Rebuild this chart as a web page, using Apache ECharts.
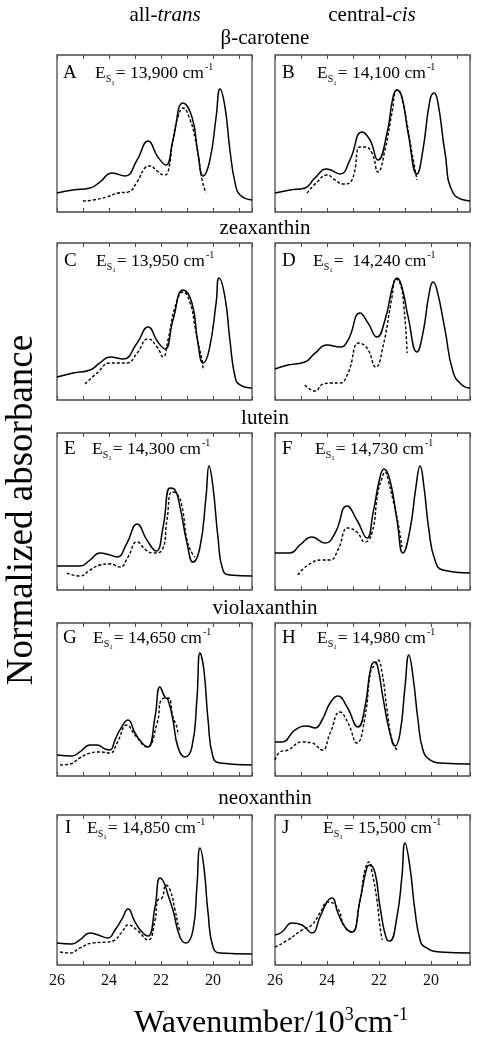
<!DOCTYPE html>
<html><head><meta charset="utf-8">
<script src="https://cdn.jsdelivr.net/npm/echarts@6/dist/echarts.min.js"></script>
<style>html,body{margin:0;padding:0;background:#fff}#c{width:486px;height:1050px}</style>
</head><body><div id="c"></div>
<script>
// ---- data ----
const xTickLabels = [26, 24, 22, 20];
const panelLetters = ['A','B','C','D','E','F','G','H','I','J'];
const esValues = ['= 13,900 cm','= 14,100 cm','= 13,950 cm','=  14,240 cm','= 14,300 cm','= 14,730 cm','= 14,650 cm','= 14,980 cm','= 14,850 cm','= 15,500 cm'];
const rowTitles = ['β-carotene','zeaxanthin','lutein','violaxanthin','neoxanthin'];

const solidA = [[26,0.121],[25.38,0.14],[24.73,0.153],[24.35,0.191],[23.88,0.248],[23.38,0.229],[22.92,0.331],[22.5,0.452],[22.12,0.35],[21.81,0.299],[21.54,0.459],[21.15,0.694],[20.81,0.605],[20.58,0.376],[20.38,0.229],[20.12,0.331],[19.88,0.605],[19.73,0.783],[19.54,0.669],[19.35,0.395],[19.15,0.185],[18.96,0.108],[18.5,0.076]];
const dashA = [[25.0,0.07],[24.62,0.076],[24.08,0.096],[23.65,0.121],[23.27,0.127],[22.92,0.191],[22.62,0.28],[22.42,0.293],[22.15,0.261],[21.88,0.236],[21.73,0.255],[21.54,0.459],[21.35,0.605],[21.15,0.662],[20.88,0.586],[20.69,0.471],[20.58,0.376],[20.42,0.204],[20.27,0.121]];

const solidB = [[26,0.121],[25.42,0.14],[24.85,0.153],[24.46,0.217],[24.0,0.274],[23.5,0.242],[23.12,0.331],[22.65,0.51],[22.35,0.459],[22.04,0.331],[21.69,0.503],[21.46,0.732],[21.31,0.777],[21.12,0.732],[20.88,0.503],[20.54,0.242],[20.31,0.395],[20.04,0.713],[19.88,0.758],[19.73,0.694],[19.46,0.376],[19.15,0.121],[18.5,0.07]];
const dashB = [[24.77,0.121],[24.38,0.191],[24.0,0.236],[23.69,0.204],[23.38,0.178],[23.04,0.204],[22.73,0.414],[22.54,0.414],[22.27,0.376],[22.04,0.255],[21.77,0.395],[21.5,0.631],[21.31,0.777],[21.19,0.764],[21.0,0.631],[20.73,0.376],[20.54,0.204]];

const solidC = [[26,0.146],[25.38,0.172],[24.73,0.191],[24.35,0.236],[23.96,0.274],[23.46,0.261],[22.92,0.363],[22.5,0.465],[22.12,0.369],[21.85,0.325],[21.54,0.51],[21.15,0.701],[20.81,0.618],[20.58,0.363],[20.38,0.236],[20.15,0.318],[19.88,0.618],[19.77,0.777],[19.54,0.656],[19.35,0.382],[19.15,0.146],[18.96,0.096],[18.5,0.076]];
const dashC = [[24.92,0.102],[24.46,0.172],[23.96,0.236],[23.69,0.236],[23.31,0.236],[22.92,0.299],[22.5,0.389],[22.15,0.338],[21.92,0.274],[21.73,0.382],[21.46,0.592],[21.15,0.688],[20.88,0.618],[20.69,0.465],[20.54,0.338],[20.42,0.255],[20.38,0.191]];

const solidD = [[26,0.197],[25.5,0.223],[24.85,0.242],[24.46,0.299],[24.0,0.35],[23.5,0.338],[23.19,0.382],[22.73,0.554],[22.42,0.49],[22.08,0.401],[21.77,0.51],[21.46,0.732],[21.31,0.777],[21.12,0.72],[20.88,0.529],[20.54,0.306],[20.31,0.427],[20.08,0.669],[19.92,0.752],[19.77,0.701],[19.46,0.446],[19.15,0.178],[18.81,0.096],[18.5,0.076]];
const dashD = [[24.85,0.096],[24.46,0.057],[24.15,0.102],[23.81,0.108],[23.5,0.108],[23.19,0.172],[22.77,0.363],[22.46,0.331],[22.12,0.21],[21.85,0.338],[21.5,0.656],[21.35,0.771],[21.19,0.745],[21.04,0.592],[20.92,0.299]];

const solidE = [[26,0.153],[25.12,0.153],[24.73,0.191],[24.35,0.236],[23.96,0.223],[23.69,0.21],[23.31,0.299],[22.92,0.42],[22.54,0.318],[22.19,0.248],[21.92,0.401],[21.65,0.65],[21.46,0.637],[21.27,0.529],[21.0,0.299],[20.77,0.178],[20.5,0.274],[20.27,0.592],[20.15,0.79],[20.0,0.656],[19.81,0.338],[19.62,0.127],[19.35,0.096],[18.5,0.089]];
const dashE = [[25.62,0.108],[25.12,0.089],[24.73,0.127],[24.35,0.159],[23.96,0.166],[23.58,0.146],[23.27,0.21],[22.92,0.306],[22.58,0.255],[22.31,0.236],[21.96,0.255],[21.77,0.446],[21.58,0.624],[21.38,0.611],[21.19,0.529],[21.0,0.318],[20.81,0.236],[20.69,0.21]];

const solidF = [[26,0.236],[25.42,0.236],[25.04,0.287],[24.58,0.338],[24.08,0.299],[23.69,0.363],[23.23,0.535],[22.85,0.446],[22.46,0.331],[22.23,0.49],[21.96,0.72],[21.81,0.771],[21.58,0.701],[21.31,0.446],[21.08,0.236],[20.81,0.382],[20.58,0.656],[20.42,0.79],[20.27,0.656],[20.08,0.382],[19.85,0.191],[19.54,0.127],[18.5,0.108]];
const dashF = [[25.12,0.096],[24.73,0.159],[24.19,0.191],[23.88,0.191],[23.58,0.255],[23.19,0.395],[22.85,0.369],[22.54,0.306],[22.27,0.363],[22.04,0.624],[21.88,0.713],[21.77,0.752],[21.62,0.682],[21.46,0.573],[21.27,0.427],[21.12,0.274]];

const solidG = [[26,0.137],[25.42,0.131],[25.12,0.157],[24.73,0.203],[24.46,0.203],[24.15,0.176],[23.96,0.17],[23.77,0.235],[23.58,0.301],[23.27,0.366],[23.0,0.281],[22.73,0.216],[22.5,0.19],[22.23,0.386],[22.04,0.582],[21.85,0.516],[21.73,0.497],[21.54,0.366],[21.35,0.19],[21.08,0.124],[20.81,0.19],[20.62,0.497],[20.5,0.804],[20.35,0.693],[20.19,0.366],[20.0,0.124],[19.73,0.085],[18.5,0.072]];
const dashG = [[25.88,0.072],[25.5,0.078],[25.12,0.118],[24.73,0.15],[24.35,0.157],[23.96,0.15],[23.69,0.216],[23.31,0.333],[23.0,0.268],[22.54,0.19],[22.15,0.346],[21.96,0.503],[21.73,0.51],[21.54,0.386],[21.38,0.314],[21.35,0.268]];

const solidH = [[26,0.222],[25.73,0.222],[25.23,0.301],[24.77,0.327],[24.46,0.314],[24.19,0.366],[23.88,0.477],[23.58,0.523],[23.23,0.451],[22.81,0.32],[22.54,0.451],[22.31,0.712],[22.15,0.745],[22.04,0.706],[21.85,0.516],[21.58,0.281],[21.38,0.196],[21.19,0.281],[21.0,0.582],[20.85,0.791],[20.69,0.647],[20.5,0.366],[20.31,0.17],[20.04,0.105],[19.65,0.085],[18.5,0.078]];
const dashH = [[26,0.105],[25.81,0.157],[25.5,0.17],[24.96,0.222],[24.58,0.216],[24.19,0.17],[23.88,0.281],[23.5,0.418],[23.19,0.346],[22.85,0.216],[22.54,0.386],[22.31,0.693],[22.15,0.725],[22.04,0.758],[21.88,0.673],[21.69,0.431],[21.5,0.235],[21.31,0.17]];

const solidI = [[26,0.147],[25.42,0.14],[25.12,0.167],[24.73,0.213],[24.42,0.2],[24.04,0.18],[23.77,0.233],[23.5,0.307],[23.27,0.373],[23.0,0.287],[22.73,0.22],[22.5,0.193],[22.23,0.387],[22.04,0.58],[21.88,0.547],[21.73,0.467],[21.54,0.367],[21.27,0.187],[21.04,0.147],[20.77,0.233],[20.62,0.52],[20.5,0.78],[20.35,0.653],[20.19,0.347],[20.0,0.12],[19.73,0.08],[18.5,0.073]];
const dashI = [[25.88,0.087],[25.5,0.08],[25.12,0.113],[24.62,0.147],[24.08,0.153],[23.85,0.16],[23.5,0.22],[23.27,0.267],[22.92,0.233],[22.5,0.167],[22.23,0.3],[22.12,0.433],[21.96,0.447],[21.81,0.533],[21.65,0.5],[21.46,0.367],[21.31,0.247],[21.23,0.22]];

const solidJ = [[26,0.2],[25.73,0.22],[25.35,0.28],[24.96,0.267],[24.58,0.213],[24.27,0.32],[24.0,0.42],[23.81,0.447],[23.58,0.347],[23.31,0.253],[23.04,0.22],[22.73,0.433],[22.46,0.653],[22.35,0.667],[22.15,0.613],[21.96,0.387],[21.69,0.167],[21.58,0.16],[21.31,0.32],[21.12,0.587],[21.0,0.813],[20.81,0.653],[20.62,0.367],[20.42,0.167],[20.23,0.12],[19.65,0.087],[18.5,0.08]];
const dashJ = [[26,0.12],[25.5,0.167],[24.96,0.233],[24.58,0.267],[24.27,0.347],[23.96,0.42],[23.62,0.387],[23.31,0.253],[23.04,0.22],[22.73,0.433],[22.54,0.633],[22.38,0.687],[22.27,0.62],[22.08,0.433],[21.96,0.253],[21.88,0.167]];

const solids = [solidA,solidB,solidC,solidD,solidE,solidF,solidG,solidH,solidI,solidJ];
const dashes = [dashA,dashB,dashC,dashD,dashE,dashF,dashG,dashH,dashI,dashJ];

// ---- layout ----
const FONT = '"Liberation Serif", "Times New Roman", serif';
const colLeft = [57, 275];
const colWidth = 195;
const rowTop = [55, 243, 433, 623, 815];
const rowHeight = [157, 157, 157, 153, 150];
const labelY = [73.5, 261, 449, 638, 828];
const letterX = [63, 282, 64, 282, 64, 282, 63, 282, 65, 282];
const eX = [95, 317, 96, 313, 92, 315, 93, 317, 87, 323];
const titleY = [38, 228, 418, 608, 798];

const grids = [], xAxes = [], yAxes = [], series = [], graphics = [];
for (let i = 0; i < 10; i++) {
  const r = Math.floor(i / 2), c = i % 2;
  grids.push({left: colLeft[c], top: rowTop[r], width: colWidth, height: rowHeight[r],
    show: true, borderColor: '#4a4a4a', borderWidth: 1.3, backgroundColor: 'transparent', containLabel: false});
  const base = {type: 'value', gridIndex: i, min: 18.5, max: 26, inverse: true,
    minInterval: 1, maxInterval: 1, splitLine: {show: false}, axisLine: {show: false},
    axisTick: {show: true, inside: true, length: 4, lineStyle: {color: '#4a4a4a', width: 1}}};
  xAxes.push(Object.assign({}, base, {position: 'bottom',
    axisLabel: {show: r === 4, margin: 8, fontFamily: FONT, fontSize: 16, color: '#111',
      formatter: v => xTickLabels.indexOf(v) >= 0 ? String(v) : ''}}));
  xAxes.push(Object.assign({}, base, {position: 'top', axisLabel: {show: false}}));
  yAxes.push({type: 'value', gridIndex: i, min: 0, max: 1, show: false});
  series.push({type: 'line', xAxisIndex: 2 * i, yAxisIndex: i, data: solids[i], smooth: 0.5,
    showSymbol: false, symbol: 'none', lineStyle: {color: '#000', width: 1.5}, silent: true, animation: false});
  series.push({type: 'line', xAxisIndex: 2 * i, yAxisIndex: i, data: dashes[i], smooth: 0.5,
    showSymbol: false, symbol: 'none', lineStyle: {color: '#000', width: 1.4, type: [3, 2]}, silent: true, animation: false});
  // panel letter
  graphics.push({type: 'text', x: letterX[i], y: labelY[r], style: {text: panelLetters[i], font: '19px ' + FONT, fill: '#000',
    textVerticalAlign: 'middle', verticalAlign: 'middle'}});
  // E_S1 label
  graphics.push({type: 'text', x: eX[i], y: labelY[r] - 13, style: {
    text: '{e|E}{s|S}{o|1}{t|' + esValues[i] + '}{p|-1}',
    fill: '#000', textVerticalAlign: 'top', verticalAlign: 'top',
    rich: {
      e: {fontFamily: FONT, fontSize: 17.5, lineHeight: 26, verticalAlign: 'middle'},
      s: {fontFamily: FONT, fontSize: 10, lineHeight: 10, verticalAlign: 'bottom', padding: [0, 0, 2, 0]},
      o: {fontFamily: FONT, fontSize: 7, lineHeight: 7, verticalAlign: 'bottom', padding: [0, 1, 0, 0]},
      t: {fontFamily: FONT, fontSize: 17.5, lineHeight: 26, verticalAlign: 'middle'},
      p: {fontFamily: FONT, fontSize: 10, lineHeight: 10, verticalAlign: 'top', padding: [2, 0, 0, 1]}
    }}});
}
for (let r = 0; r < 5; r++) {
  graphics.push({type: 'text', x: 265, y: titleY[r], style: {text: rowTitles[r], font: '21px ' + FONT, fill: '#000',
    textAlign: 'center', align: 'center', textVerticalAlign: 'middle', verticalAlign: 'middle'}});
}
graphics.push({type: 'text', x: 165, y: 15, style: {text: '{n|all-}{i|trans}', fill: '#000', textAlign: 'center', align: 'center',
  textVerticalAlign: 'middle', verticalAlign: 'middle',
  rich: {n: {fontFamily: FONT, fontSize: 21}, i: {fontFamily: FONT, fontSize: 21, fontStyle: 'italic'}}}});
graphics.push({type: 'text', x: 372, y: 15, style: {text: '{n|central-}{i|cis}', fill: '#000', textAlign: 'center', align: 'center',
  textVerticalAlign: 'middle', verticalAlign: 'middle',
  rich: {n: {fontFamily: FONT, fontSize: 21}, i: {fontFamily: FONT, fontSize: 21, fontStyle: 'italic'}}}});
graphics.push({type: 'text', x: 22, y: 510, rotation: Math.PI / 2, style: {text: 'Normalized absorbance', font: '37px ' + FONT, fill: '#000',
  textAlign: 'center', align: 'center', textVerticalAlign: 'middle', verticalAlign: 'middle'}});
graphics.push({type: 'text', x: 271, y: 1024, style: {text: '{m|Wavenumber/10}{p|3}{m|cm}{p|-1}', fill: '#000',
  textAlign: 'center', align: 'center', textVerticalAlign: 'middle', verticalAlign: 'middle',
  rich: {m: {fontFamily: FONT, fontSize: 32, lineHeight: 42, verticalAlign: 'middle'},
         p: {fontFamily: FONT, fontSize: 18, lineHeight: 18, verticalAlign: 'top', padding: [3, 0, 0, 0]}}}});

const chart = echarts.init(document.getElementById('c'), null, {renderer: 'canvas'});
chart.setOption({animation: false, backgroundColor: '#fff', grid: grids, xAxis: xAxes, yAxis: yAxes, series: series, graphic: graphics});
</script></body></html>
